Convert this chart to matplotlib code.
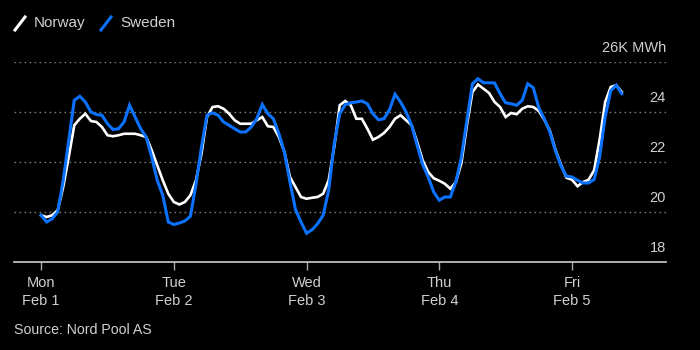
import numpy as np
import matplotlib.pyplot as plt
from matplotlib.lines import Line2D
from matplotlib.transforms import offset_copy

# hourly consumption, thousand MWh, Mon Feb 1 00:00 -> Fri Feb 5 09:00
norway = [
    19.87, 19.80, 19.87, 20.07, 21.00, 22.20, 23.47, 23.73, 23.93, 23.64, 23.60, 23.40,
    23.07, 23.03, 23.07, 23.13, 23.13, 23.13, 23.07, 23.00, 22.47, 21.87, 21.27, 20.73,
    20.40, 20.30, 20.40, 20.67, 21.27, 22.33, 23.80, 24.20, 24.23, 24.13, 23.93, 23.67,
    23.53, 23.53, 23.53, 23.67, 23.80, 23.43, 23.40, 23.00, 22.40, 21.40, 21.00, 20.60,
    20.53, 20.57, 20.60, 20.73, 21.27, 22.60, 24.27, 24.44, 24.27, 23.73, 23.73, 23.33,
    22.89, 23.00, 23.16, 23.40, 23.73, 23.87, 23.67, 23.47, 22.80, 22.07, 21.60, 21.35,
    21.25, 21.13, 20.93, 21.20, 21.95, 23.47, 24.80, 25.10, 24.93, 24.76, 24.40, 24.20,
    23.80, 23.96, 23.91, 24.13, 24.23, 24.20, 24.04, 23.69, 23.25, 22.50, 21.90, 21.37,
    21.29, 21.03, 21.20, 21.29, 21.67, 22.90, 24.40, 25.00, 25.07, 24.80,
]
sweden = [
    19.87, 19.60, 19.73, 20.00, 21.27, 22.87, 24.47, 24.63, 24.40, 24.00, 23.90, 23.87,
    23.53, 23.30, 23.33, 23.60, 24.27, 23.80, 23.33, 23.00, 22.20, 21.27, 20.67, 19.60,
    19.50, 19.56, 19.64, 19.83, 21.10, 22.60, 23.87, 23.97, 23.87, 23.60, 23.47, 23.33,
    23.20, 23.20, 23.40, 23.73, 24.30, 23.93, 23.73, 23.13, 22.40, 21.20, 20.10, 19.60,
    19.15, 19.29, 19.53, 19.87, 20.87, 22.73, 23.93, 24.29, 24.37, 24.40, 24.44, 24.33,
    23.93, 23.69, 23.73, 24.09, 24.71, 24.40, 24.00, 23.47, 22.67, 21.90, 21.40, 20.80,
    20.47, 20.60, 20.60, 21.20, 22.20, 23.67, 25.13, 25.33, 25.17, 25.17, 25.16, 24.73,
    24.37, 24.33, 24.27, 24.47, 25.13, 24.97, 24.17, 23.73, 23.20, 22.45, 21.85, 21.43,
    21.40, 21.27, 21.16, 21.16, 21.30, 22.20, 23.80, 24.85, 25.07, 24.73,
]
day_labels = ["Mon\nFeb 1", "Tue\nFeb 2", "Wed\nFeb 3", "Thu\nFeb 4", "Fri\nFeb 5"]
y_ticks = [18, 20, 22, 24, 26]
y_labels = ["18", "20", "22", "24", "26K MWh"]

blue = "#0a72ff"
txt = "#d0d0d0"
plt.rcParams['font.family'] = ['Liberation Sans', 'DejaVu Sans']

fig = plt.figure(figsize=(7, 3.5), dpi=100, facecolor="black")
ax = fig.add_axes([14 / 700, 1 - 262 / 350, 652 / 700, 200 / 350])
ax.set_facecolor("black")

hours = np.arange(len(norway))
ax.plot(hours, norway, color="white", lw=1.9, zorder=3, solid_joinstyle="miter")
ax.plot(hours, sweden, color=blue, lw=2.2, zorder=4, solid_joinstyle="miter")

ax.set_xlim(-4.9, 113)
ax.set_ylim(18, 26)

# x axis: one tick per day
ax.set_xticks(np.arange(len(day_labels)) * 24)
ax.set_xticklabels(day_labels, color=txt, fontsize=10.5, linespacing=1.35)
ax.tick_params(axis="x", length=6, width=1, color="#aaaaaa", pad=4)

# y: dotted grid, labels right aligned sitting above the lines
ax.set_yticks(y_ticks)
ax.set_yticklabels([])
ax.tick_params(axis="y", length=0)
ax.grid(axis="y", color="#7a7a7a", linestyle=(0, (1.2, 2.4)), lw=1)
lab_tr = offset_copy(ax.get_yaxis_transform(), fig=fig, x=0, y=14, units="dots")
for v, lab in zip(y_ticks, y_labels):
    ax.text(1.0, v, lab, transform=lab_tr, ha="right", va="center",
            color=txt, fontsize=10.5)

for s in ["top", "left", "right"]:
    ax.spines[s].set_visible(False)
ax.spines["bottom"].set_color("#cccccc")
ax.spines["bottom"].set_linewidth(1.2)

# legend with slanted line glyphs
fig.add_artist(Line2D([15 / 700, 25 / 700], [1 - 30 / 350, 1 - 17 / 350], color="white", lw=2.2))
fig.text(34 / 700, 1 - 23 / 350, "Norway", color=txt, fontsize=11, va="center")
fig.add_artist(Line2D([101 / 700, 111 / 700], [1 - 30 / 350, 1 - 17 / 350], color=blue, lw=2.2))
fig.text(120 / 700, 1 - 23 / 350, "Sweden", color=txt, fontsize=11, va="center")

fig.text(14 / 700, 1 - 330 / 350, "Source: Nord Pool AS", color=txt, fontsize=10.2, va="center")

fig.savefig("out.png", dpi=100, facecolor="black")
